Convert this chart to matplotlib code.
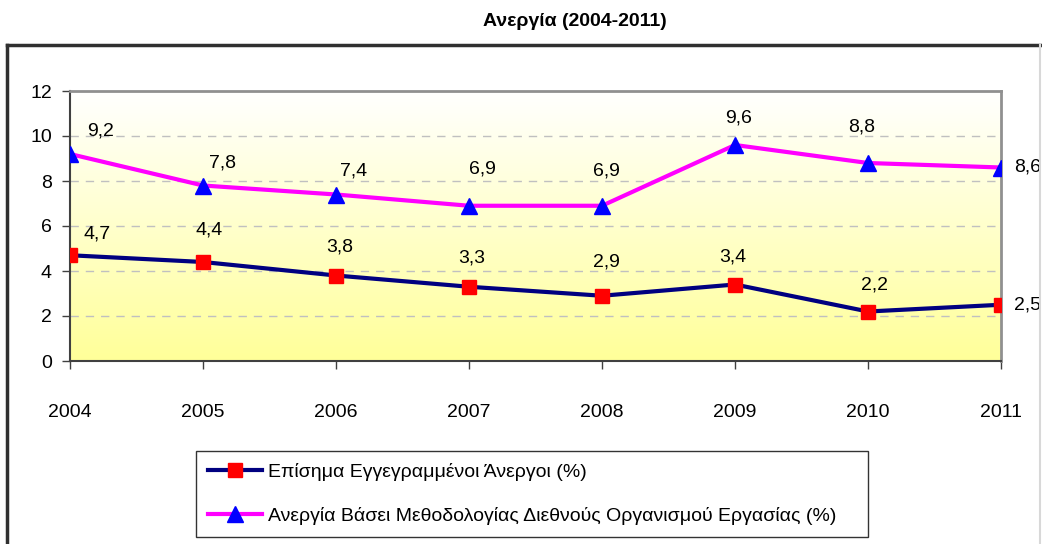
import numpy as np
import matplotlib
matplotlib.use("Agg")
import matplotlib.pyplot as plt
from matplotlib.lines import Line2D

years = ["2004", "2005", "2006", "2007", "2008", "2009", "2010", "2011"]
registered = [4.7, 4.4, 3.8, 3.3, 2.9, 3.4, 2.2, 2.5]
ilo = [9.2, 7.8, 7.4, 6.9, 6.9, 9.6, 8.8, 8.6]
label_registered = "Επίσημα Εγγεγραμμένοι Άνεργοι (%)"
label_ilo = "Ανεργία Βάσει Μεθοδολογίας Διεθνούς Οργανισμού Εργασίας (%)"
title = "Ανεργία (2004-2011)"

# label placement (pixel offsets from the marker), as Excel put them
reg_dx = [27, 6, 4, 3, 4, -2, 7]
reg_dy = [21, 32, 28, 29, 34, 28, 26]
ilo_dx = [31, 19, 18, 13, 4, 4, -6]
ilo_dy = [23, 23, 23, 37, 35, 27, 36]

plt.rcParams["font.family"] = ["Liberation Sans", "DejaVu Sans"]
fs = 14

fig = plt.figure(figsize=(10.42, 5.44), dpi=100)
ax = fig.add_axes([70 / 1042, 1 - 361 / 544, (1001 - 70) / 1042, (361 - 91) / 544])

x = np.arange(len(years))

# gradient background, white at top to pale yellow at bottom
grad = np.linspace(0, 1, 256).reshape(-1, 1)
top = np.array([1.0, 1.0, 1.0])
bot = np.array([1.0, 1.0, 0.60])
img = top + (bot - top) * grad[:, :, None] * np.ones((1, 1, 3))
ax.imshow(img, extent=[0, 7, 0, 12], aspect="auto", origin="upper", zorder=0)

ax.set_xlim(0, 7)
ax.set_ylim(0, 12)
for yv in range(2, 12, 2):
    ax.axhline(yv, color="#c0c0c0", lw=1, ls=(0, (6, 5)), zorder=1)

ax.plot(x, registered, color="#000080", lw=3, marker="s", ms=10,
        mfc="#ff0000", mec="#ff0000", zorder=3, label=label_registered)
ax.plot(x, ilo, color="#ff00ff", lw=3, marker="^", ms=11,
        mfc="#0000ff", mec="#0000ff", zorder=3, label=label_ilo)

for series, dxs, dys in ((registered, reg_dx, reg_dy), (ilo, ilo_dx, ilo_dy)):
    for i, v in enumerate(series):
        txt = f"{v:.1f}".replace(".", ",")
        if i == len(series) - 1:
            ax.annotate(txt, (i, v), xytext=(13, 0), textcoords="offset pixels",
                        ha="left", va="center", fontsize=fs, annotation_clip=False)
        else:
            ax.annotate(txt, (i, v), xytext=(dxs[i], dys[i]), textcoords="offset pixels",
                        ha="center", va="center", fontsize=fs)

ax.set_xticks(x)
ax.set_xticklabels(years, fontsize=fs)
ax.set_yticks(range(0, 13, 2))
ax.set_yticklabels([str(v) for v in range(0, 13, 2)], fontsize=fs)
ax.tick_params(axis="x", direction="out", length=6, width=1, pad=25, colors="#404040",
               labelcolor="black")
ax.tick_params(axis="y", direction="out", length=6, width=1, pad=7, colors="#404040",
               labelcolor="black")

for s in ("left", "bottom"):
    ax.spines[s].set_color("#404040")
    ax.spines[s].set_linewidth(1.5)
for s in ("top", "right"):
    ax.spines[s].set_color("#909090")
    ax.spines[s].set_linewidth(2)

fig.text(575 / 1042, 1 - 22 / 544, title, ha="center", va="center",
         fontsize=14, fontweight="bold")

# outer chart border
fig.add_artist(Line2D([7 / 1042, 7 / 1042], [0, 1 - 45 / 544], color="#303030", lw=2.5))
fig.add_artist(Line2D([7 / 1042, 1], [1 - 45 / 544, 1 - 45 / 544], color="#303030", lw=2.5))
fig.add_artist(Line2D([1040 / 1042, 1040 / 1042], [0, 1 - 45 / 544], color="#d8d8d8", lw=1.5))

leg = fig.legend(loc="upper left",
                 bbox_to_anchor=(196 / 1042, 1 - 538 / 544, 672 / 1042, 87 / 544),
                 mode="expand", fontsize=fs, frameon=True, fancybox=False,
                 handlelength=2.8, handletextpad=0.3, labelspacing=1.35,
                 borderpad=0.6, borderaxespad=0)
leg.get_frame().set_edgecolor("black")
leg.get_frame().set_linewidth(1)

fig.savefig("out.png", dpi=100)
